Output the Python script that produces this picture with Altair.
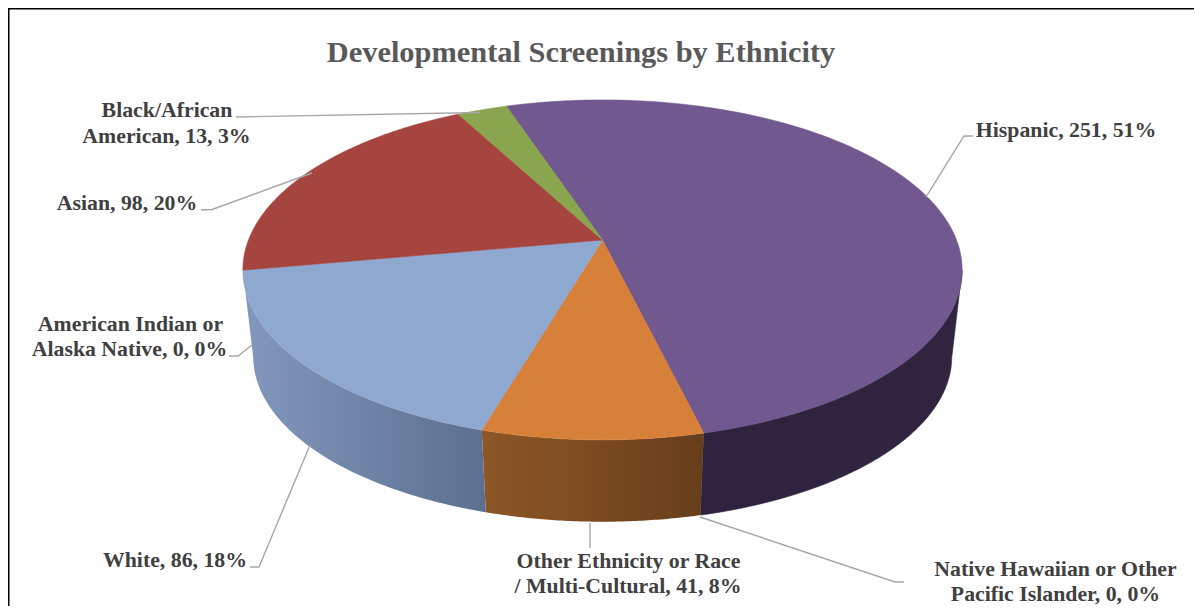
import math
import altair as alt
import pandas as pd

# ---- chart values
categories = ["Hispanic", "Other Ethnicity or Race / Multi-Cultural", "White", "Asian", "Black/African American"]
counts = [251, 41, 86, 98, 13]
top_colors = ["#71588F", "#D7803A", "#8FA8D0", "#A64440", "#89A54E"]
side_gradients = {
    "Hispanic": ("#2E233E", "#30243F"),
    "Other Ethnicity or Race / Multi-Cultural": ("#8D5727", "#673E1B"),
    "White": ("#8398BD", "#5C6F90"),
}
title_text = "Developmental Screenings by Ethnicity"
label_lines = [
    "Black/African", "American, 13, 3%", "Asian, 98, 20%", "American Indian or",
    "Alaska Native, 0, 0%", "White, 86, 18%", "Other Ethnicity or Race",
    "/ Multi-Cultural, 41, 8%", "Native Hawaiian or Other", "Pacific Islander, 0, 0%",
    "Hispanic, 251, 51%",
]
label_x = [167, 166.5, 127, 130.5, 129.5, 175, 628.5, 628, 1055.5, 1055.5, 1066]
label_y = [110, 136, 203, 324, 349, 560, 561, 586, 569, 594, 130]

# leader lines: one list of picture points per label
leaders = [
    [(236, 117), (480, 112.5)],
    [(201, 210), (212, 209.5), (312, 173)],
    [(973, 136), (964, 136), (926, 197)],
    [(700, 517), (895, 582), (904, 582)],
    [(590, 523), (590, 548)],
    [(229, 356), (238, 356), (252, 345)],
    [(250, 567), (259, 567), (310, 445)],
]
frame = [(1194, 8.5), (8.5, 8.5), (8.5, 606)]

# ---- perspective disc: a circle seen obliquely
CX, TOP_Y, BOTTOM_Y = 602.5, 240, 328.6
A, B, K = 354, 164.7, 0.176
SHRINK = 0.972
START = -18.5


def rim(theta, lower=False):
    s = math.sin(math.radians(theta))
    c = -math.cos(math.radians(theta))
    w = 1 - K * c * (SHRINK if lower else 1)
    scale = SHRINK if lower else 1
    return (CX + A * scale * s / w, (BOTTOM_Y if lower else TOP_Y) + B * scale * c / w)


def frange(a, b, n=70):
    return [a + (b - a) * i / n for i in range(n + 1)]


total = sum(counts)
spans = []
t = START
for c in counts:
    spans.append((t, t + c / total * 360))
    t += c / total * 360

X = alt.X("x:Q", axis=None, scale=alt.Scale(domain=[8, 1194], nice=False, zero=False))
Y = alt.Y("y:Q", axis=None, scale=alt.Scale(domain=[8, 606], nice=False, zero=False, reverse=True))


def polygon(points, fill, stroke):
    df = pd.DataFrame([{"x": p[0], "y": p[1], "o": i} for i, p in enumerate(points + points[:1])])
    return alt.Chart(df).mark_line(fill=fill, stroke=stroke, strokeWidth=0.6, interpolate="linear", clip=True).encode(
        x=X, y=Y, order="o:Q"
    )


def gradient(c0, c1):
    return alt.Gradient(gradient="linear", x1=0, x2=1, y1=0, y2=0,
                        stops=[alt.GradientStop(color=c0, offset=0), alt.GradientStop(color=c1, offset=1)])


layers = []
# side walls
for name, (a, b) in zip(categories, spans):
    if name not in side_gradients:
        continue
    lo, hi = max(a, 100.2), min(b, 259.8)
    pts = [rim(t) for t in frange(lo, hi)] + [rim(t, True) for t in frange(hi, lo)]
    c0, c1 = side_gradients[name]
    layers.append(polygon(pts, gradient(c0, c1), c1 if name == "Hispanic" else "transparent"))
# top faces
for color, (a, b) in zip(top_colors, spans):
    pts = [(CX, TOP_Y)] + [rim(t) for t in frange(a, b, 120)]
    layers.append(polygon(pts, color, color))

# leader lines
lead_rows = [{"x": p[0], "y": p[1], "o": j, "k": i} for i, pts in enumerate(leaders) for j, p in enumerate(pts)]
layers.append(alt.Chart(pd.DataFrame(lead_rows)).mark_line(color="#A6A6A6", strokeWidth=1.4).encode(
    x=X, y=Y, order="o:Q", detail="k:N"))

# frame
frame_rows = [{"x": p[0], "y": p[1], "o": j} for j, p in enumerate(frame)]
layers.append(alt.Chart(pd.DataFrame(frame_rows)).mark_line(color="#000000", strokeWidth=2).encode(
    x=X, y=Y, order="o:Q"))

# labels
labels = pd.DataFrame({"x": label_x, "y": label_y, "t": label_lines})
layers.append(alt.Chart(labels).mark_text(font="Liberation Serif", fontWeight="bold", fontSize=21.8,
                                          color="#404040", align="center", baseline="middle").encode(
    x=X, y=Y, text="t:N"))
layers.append(alt.Chart(pd.DataFrame({"x": [581], "y": [53], "t": [title_text]})).mark_text(
    font="Liberation Serif", fontWeight="bold", fontSize=30.4, color="#595959", align="center", baseline="middle"
).encode(x=X, y=Y, text="t:N"))

chart = alt.layer(*layers).properties(width=1186, height=598, padding=0, autosize="none",
                                      background="white").configure_view(stroke=None)
chart.save("out.html", embed_options={"renderer": "svg", "actions": False})
